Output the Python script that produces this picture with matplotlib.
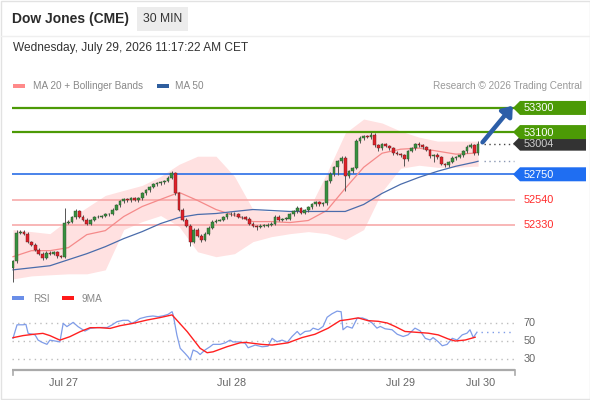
import numpy as np
import matplotlib
matplotlib.use("Agg")
import matplotlib.pyplot as plt
from matplotlib.patches import Polygon, Rectangle

plt.rcParams['font.family'] = ['Liberation Sans', 'DejaVu Sans']

# ---- data (30 min candles, Dow Jones CME) ----
first_open = 51975
closes = [
    52033, 52267, 52275, 52258, 52192, 52167, 52125, 52092, 52058, 52100,
    52092, 52108, 52075, 52067, 52350, 52358, 52392, 52442, 52400, 52375,
    52342, 52375, 52392, 52400, 52408, 52417, 52425, 52458, 52492, 52525,
    52542, 52533, 52550, 52533, 52550, 52592, 52617, 52642, 52667, 52675,
    52683, 52692, 52717, 52758, 52592, 52458, 52375, 52325, 52192, 52292,
    52242, 52208, 52258, 52308, 52358, 52367, 52375, 52392, 52417, 52425,
    52417, 52400, 52392, 52383, 52342, 52325, 52317, 52325, 52325, 52333,
    52342, 52400, 52375, 52383, 52383, 52417, 52442, 52467, 52433, 52450,
    52475, 52500, 52517, 52500, 52508, 52692, 52750, 52808, 52858, 52883,
    52733, 52775, 52800, 53025, 53050, 53067, 53058, 53075, 52992, 52967,
    53000, 52983, 52967, 52925, 52917, 52908, 52875, 52942, 52967, 53000,
    52992, 52975, 52950, 52900, 52908, 52892, 52833, 52825, 52850, 52883,
    52892, 52908, 52942, 52975, 52992, 52925, 53004,
]
wick_up = [
    10, 20, 15, 12, 10, 8, 10, 12, 10, 15,
    12, 10, 8, 10, 117, 15, 12, 20, 10, 12,
    10, 8, 10, 12, 8, 10, 8, 12, 10, 15,
    12, 10, 8, 10, 12, 15, 10, 8, 12, 10,
    12, 10, 15, 20, 10, 8, 12, 10, 12, 15,
    10, 12, 10, 15, 12, 10, 8, 10, 12, 10,
    15, 12, 8, 10, 12, 10, 8, 10, 12, 10,
    15, 12, 10, 8, 10, 12, 15, 20, 10, 12,
    10, 8, 12, 10, 15, 12, 15, 10, 12, 20,
    15, 10, 12, 15, 20, 12, 10, 25, 15, 12,
    10, 8, 12, 10, 15, 12, 10, 8, 10, 12,
    15, 10, 8, 12, 10, 15, 12, 8, 10, 15,
    12, 10, 12, 15, 20, 12, 18,
]
wick_dn = [
    117, 15, 10, 12, 10, 15, 12, 10, 15, 12,
    10, 12, 15, 10, 12, 10, 12, 10, 15, 12,
    10, 12, 10, 8, 12, 10, 12, 10, 8, 12,
    10, 12, 10, 8, 12, 10, 12, 10, 8, 10,
    12, 10, 8, 10, 15, 12, 15, 12, 40, 12,
    15, 20, 12, 10, 12, 10, 8, 12, 10, 12,
    10, 12, 10, 8, 12, 15, 25, 12, 10, 12,
    10, 12, 10, 8, 12, 10, 12, 10, 15, 12,
    10, 12, 10, 15, 12, 15, 12, 10, 60, 15,
    120, 15, 12, 10, 15, 12, 10, 12, 15, 20,
    12, 10, 15, 12, 10, 15, 58, 12, 10, 12,
    15, 12, 10, 15, 50, 12, 10, 15, 12, 10,
    12, 10, 15, 12, 10, 15, 12,
]

# indicators sampled every 5 bars (plus last bar)
band_bar = [0, 5, 10, 15, 20, 25, 30, 35, 40, 45, 50, 55, 60, 65, 70,
            75, 80, 85, 90, 95, 100, 105, 110, 115, 120, 125, 126]
ma20 = [52067, 52117, 52117, 52142, 52250, 52283, 52400, 52483, 52542, 52600,
        52533, 52458, 52408, 52358, 52358, 52350, 52367, 52450, 52633, 52808,
        52925, 52958, 52967, 52942, 52917, 52925, 52933]
bb_upper = [52292, 52275, 52258, 52375, 52475, 52575, 52617, 52658, 52733, 52833,
            52900, 52900, 52733, 52458, 52442, 52442, 52450, 52758, 53092, 53208,
            53175, 53108, 53058, 53025, 53025, 53025, 53025]
bb_lower = [51883, 51908, 51917, 51925, 51925, 51958, 52292, 52358, 52408, 52317,
            52108, 52067, 52092, 52192, 52233, 52258, 52275, 52258, 52208, 52292,
            52608, 52800, 52825, 52808, 52808, 52817, 52817]
ma50 = [51958, 51975, 51992, 52042, 52092, 52150, 52217, 52275, 52342, 52392,
        52417, 52425, 52442, 52458, 52450, 52442, 52442, 52442, 52442, 52500,
        52592, 52667, 52725, 52775, 52817, 52850, 52858]

rsi_bar = [0, 1.1, 2.7, 3.5, 4.1, 5.4, 6, 6.8, 7.9, 9.2, 10, 11.4, 12.7, 13.6,
           14.6, 16.3, 17.6, 19.5, 20.9, 22.8, 25.5, 26.8, 28.2, 29.8, 31.2,
           32.2, 33.1, 34.4, 36.3, 37.9, 39.3, 40.7, 42, 43.1, 43.4, 44.4, 45.3,
           46.6, 47.4, 48, 48.8, 49.9, 50.7, 52, 53.4, 54.2, 56.1, 57.5, 58.8,
           59.6, 61.5, 62.9, 63.7, 65.6, 67.5, 69.1, 70.2, 71.5, 72.9, 74.3,
           75.6, 77, 77.8, 79.1, 80.5, 81.3, 82.7, 84, 85.1, 86.4, 87.8, 88.9,
           89.4, 90.5, 91.9, 93.2, 94.6, 95.9, 97.3, 98.6, 99.5, 100.8, 102.7,
           104.1, 105.7, 107, 108.9, 110.3, 111.7, 113, 113.8, 115.2, 116.3,
           117.6, 119, 120.3, 121.7, 123, 123.8, 124.7, 125.7]
rsi_val = [53, 68, 68, 68.5, 58.5, 57.4, 56.7, 51, 48.5, 46.3, 51, 50, 49, 69.6,
           66, 70.7, 66, 61, 64, 65, 65, 67.8, 71.5, 73, 73,
           69.6, 71.5, 75, 77, 77.8, 77, 78, 79.6, 82.6, 79, 56.7, 41.9,
           36.3, 32.6, 29, 40, 38, 35, 40, 43.7, 46.3, 46.3, 48, 51,
           49, 49, 47.4, 42.5, 45.5, 43.6, 44.3, 53, 49.2, 51, 48.5,
           55, 60.6, 56.8, 60.6, 61.3, 64.3, 62.5, 66.2, 76.4, 80.2, 83.2, 82.5,
           62.5, 66.2, 64.3, 75, 75.7, 73.8, 70, 64.3, 66.2, 63.6, 62.5,
           57.5, 55, 56.8, 64.3, 61.3, 53, 51.1, 53.8, 49.2, 44.7,
           46.2, 53, 51.1, 56.8, 58.7, 62.5, 53.8, 59.8]
ma9_bar = [0, 2.7, 5.4, 8.1, 10, 12.7, 15.4, 18.2, 20.9, 23.6, 26.3, 29, 32.5,
           36.3, 39.8, 43.1, 47.2, 50.7, 52.6, 54.2, 58, 61.5, 62.9, 67.5, 70.2,
           74.5, 78.3, 81.8, 85.4, 88.6, 90.8, 93.5, 96.2, 98.9, 101.4, 103.5,
           106.2, 108.9, 112.5, 115.2, 117.9, 119.8, 122.5, 125.2]
ma9_val = [53.7, 56, 57.4, 58.5, 56, 51, 54.8, 60.4, 64.8, 64.8, 64, 67, 69.6,
           73.3, 76, 79, 60.4, 41.9, 37, 38, 43.7, 48, 48.5, 46.2, 45.5,
           48, 53.8, 57.5, 64.3, 72.6, 73.8, 75.7, 72.6, 71.9, 70, 66.2,
           60.6, 59.8, 58.7, 56.8, 52.3, 50, 51.1, 54.2]

levels = [53300, 53100, 52750, 52540, 52330]
last_price = 53004
day_ticks = [13.8, 59.3, 105.1, 126.6]
day_labels = ['Jul 27', 'Jul 28', 'Jul 29', 'Jul 30']
rsi_levels = [70, 50, 30]

# ---- figure ----
fig = plt.figure(figsize=(5.9, 4.0), dpi=100)
fig.patch.set_facecolor('white')

x_lo, x_hi = -0.27, 136.0
ax = fig.add_axes([12 / 590, 117 / 400, 503 / 590, 187 / 400])
ax.set_xlim(x_lo, x_hi)
ax.set_ylim(51849, 53399)
ax.axis('off')

rx = fig.add_axes([12 / 590, 30 / 400, 503 / 590, 65 / 400])
rx.set_xlim(x_lo, x_hi)
rx.set_ylim(17.8, 90)
rx.axis('off')

over = fig.add_axes([0, 0, 1, 1], zorder=5)
over.set_xlim(0, 590)
over.set_ylim(400, 0)
over.axis('off')
over.patch.set_alpha(0)

# bollinger + MAs
ax.fill_between(band_bar, bb_lower, bb_upper, color='#ffe1e1', lw=0, zorder=1)
ax.plot(band_bar, ma20, color='#f58a8a', lw=0.9, zorder=2)
ax.plot(band_bar, ma50, color='#4a6cab', lw=0.9, zorder=2)

# levels
ax.axhline(levels[0], color='#4c9a06', lw=1.6, zorder=1.5)
ax.axhline(levels[1], color='#4c9a06', lw=1.6, zorder=1.5)
ax.axhline(levels[2], color='#2a6ee6', lw=1.2, zorder=1.5)
ax.axhline(levels[3], color='#f6a3a3', lw=1.1, zorder=1.5)
ax.axhline(levels[4], color='#f6a3a3', lw=1.1, zorder=1.5)

# candles
c = np.array(closes, dtype=float)
o = np.concatenate([[first_open], c[:-1]])
n = len(c)
xs = np.arange(n)
hi = np.maximum(o, c) + np.array(wick_up)
lo = np.minimum(o, c) - np.array(wick_dn)
up = c >= o
ax.vlines(xs, lo, hi, color='#555555', lw=0.7, zorder=3)
body_b = np.minimum(o, c)
body_h = np.maximum(np.abs(c - o), 5)
ax.bar(xs[up], body_h[up], bottom=body_b[up], width=0.74, color='#38903f',
       edgecolor='#2a4a2a', lw=0.3, zorder=4)
ax.bar(xs[~up], body_h[~up], bottom=body_b[~up], width=0.74, color='#e0202a',
       edgecolor='#5a2020', lw=0.3, zorder=4)

# dotted extensions
ax.hlines(last_price, n + 0.6, x_hi - 0.3, color='#444444', lw=1.0,
          linestyles=(0, (1, 2.5)), zorder=3)
ax.hlines(ma50[-1], n + 0.6, x_hi - 0.3, color='#8a97b3', lw=1.0,
          linestyles=(0, (1, 2.5)), zorder=3)

# arrow
ax.annotate('', xy=(135.4, 53318), xytext=(127.2, 53015),
            arrowprops=dict(arrowstyle='-|>,head_length=0.55,head_width=0.42',
                            color='#2c5ea8', lw=3.2, shrinkA=0, shrinkB=0),
            zorder=6, annotation_clip=False)


def ypix(price):
    d = ax.transData.transform((0, price))
    return over.transData.inverted().transform(d)[1]


def tag(price, face, txtcol):
    yc = ypix(price)
    pts = [(513, yc), (520, yc - 7), (586, yc - 7), (586, yc + 7), (520, yc + 7)]
    over.add_patch(Polygon(pts, closed=True, facecolor=face, edgecolor='none'))
    over.text(524, yc + 0.5, f'{price}', color=txtcol, fontsize=7.8,
              va='center', ha='left')


tag(last_price, '#333333', '#d0d0d0')
tag(levels[0], '#4c9a06', 'white')
tag(levels[1], '#4c9a06', 'white')
tag(levels[2], '#1f6ef2', 'white')
for p in levels[3:]:
    over.text(524, ypix(p) + 0.5, f'{p}', color='#ff2a2a', fontsize=7.8,
              va='center', ha='left')

# RSI panel
for lv in rsi_levels:
    rx.axhline(lv, color='#bdbdbd', lw=1.0, linestyle=(0, (1, 3)))
    d = rx.transData.transform((0, lv))
    yy = over.transData.inverted().transform(d)[1]
    over.text(524, yy, str(lv), color='#666666', fontsize=7.8, va='center')
rx.plot(rsi_bar, rsi_val, color='#7f9ce8', lw=0.9)
rx.plot(ma9_bar, ma9_val, color='#ff2020', lw=1.0)
rx.hlines(rsi_val[-1], n - 0.3, x_hi - 0.3, color='#7f9ce8', lw=1.0,
          linestyles=(0, (1, 3)))

# bottom axis
over.plot([12, 515], [370, 370], color='#aaaaaa', lw=1.6, solid_capstyle='butt')
over.plot([12.5, 12.5], [370, 375], color='#aaaaaa', lw=1.2)
over.plot([514.5, 514.5], [370, 375], color='#aaaaaa', lw=1.2)
for t, lab in zip(day_ticks, day_labels):
    d = rx.transData.transform((t, 0))
    xx = over.transData.inverted().transform(d)[0]
    over.text(xx, 383, lab, color='#666666', fontsize=7.8, ha='center', va='center')

# header
over.add_patch(Rectangle((0.5, 0.5), 589, 398.5, fill=False, edgecolor='#e2e2e2', lw=1))
over.plot([1, 589], [35.5, 35.5], color='#efefef', lw=1)
over.text(12, 19.5, 'Dow Jones (CME)', fontsize=10, fontweight='bold',
          color='#2b2b2b', va='center')
over.add_patch(Rectangle((137, 7), 51, 24, facecolor='#ececec', edgecolor='none'))
over.text(162.5, 19.5, '30 MIN', fontsize=8.7, color='#333333', va='center', ha='center')
over.text(13, 48.5, 'Wednesday, July 29, 2026 11:17:22 AM CET', fontsize=8.6,
          color='#333333', va='center')

# legends
over.add_patch(Rectangle((13, 84), 12, 4, facecolor='#ff8a8a', edgecolor='none'))
over.text(33, 86, 'MA 20 + Bollinger Bands', fontsize=7.2, color='#888888', va='center')
over.add_patch(Rectangle((157, 84), 12, 4, facecolor='#2f5e9e', edgecolor='none'))
over.text(175, 86, 'MA 50', fontsize=7.2, color='#888888', va='center')
over.text(582, 86, 'Research \u00a9 2026 Trading Central', fontsize=7.2,
          color='#999999', va='center', ha='right')

over.add_patch(Rectangle((12, 296), 12, 4, facecolor='#6a8ee8', edgecolor='none'))
over.text(33, 298.5, 'RSI', fontsize=7.2, color='#888888', va='center')
over.add_patch(Rectangle((62, 296), 12, 4, facecolor='#ff1a1a', edgecolor='none'))
over.text(82, 298.5, '9MA', fontsize=7.2, color='#888888', va='center')

fig.savefig('out.png', dpi=100)
